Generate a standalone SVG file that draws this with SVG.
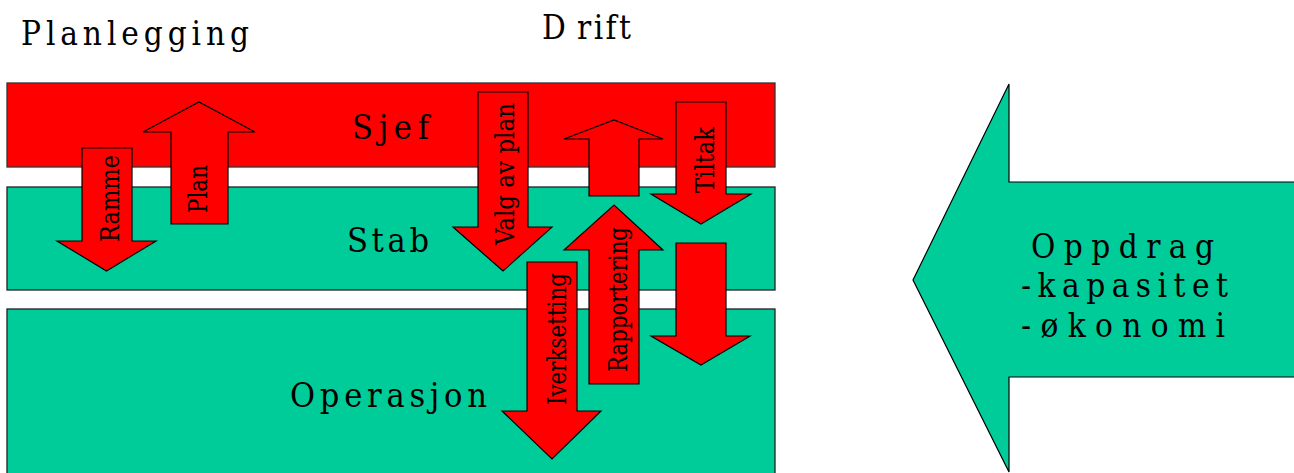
<svg xmlns="http://www.w3.org/2000/svg" width="1294" height="473" viewBox="0 0 1294 473">
  <style>
    .band-red { fill: #ff0000; stroke: #333333; stroke-width: 1.3; }
    .band-teal { fill: #00cc99; stroke: #222222; stroke-width: 1.3; }
    .arrow { fill: #ff0000; stroke: #000000; stroke-width: 1.2; stroke-linejoin: miter; }
    .big-arrow { fill: #00cc99; stroke: #000000; stroke-width: 1.2; }
    text { font-family: "DejaVu Serif", serif; font-stretch: condensed; fill: #000; }
    .title { font-size: 33px; }
    .band-label { font-size: 34px; }
    .arrow-label { font-size: 26.5px; text-anchor: middle; }
    .side-label { font-size: 33px; }
  </style>

  <!-- column headings -->
  <text class="title" x="21" y="45" textLength="228" lengthAdjust="spacing">Planlegging</text>
  <text class="title" y="39"><tspan x="542">D</tspan><tspan x="577" textLength="54" lengthAdjust="spacing">rift</tspan></text>

  <!-- organisational levels -->
  <g id="sjef">
    <rect class="band-red" x="7" y="83" width="768" height="84"/>
    <text class="band-label" x="352" y="139" textLength="77" lengthAdjust="spacing">Sjef</text>
  </g>
  <g id="stab">
    <rect class="band-teal" x="7" y="187" width="768" height="103"/>
    <text class="band-label" x="347" y="252" textLength="82" lengthAdjust="spacing">Stab</text>
  </g>
  <g id="operasjon">
    <rect class="band-teal" x="7" y="309" width="768" height="180"/>
    <text class="band-label" x="290" y="407" textLength="197" lengthAdjust="spacing">Operasjon</text>
  </g>

  <!-- flows between levels -->
  <g id="connectors">
    <g id="ramme">
      <polygon class="arrow" points="82,148 132,148 132,241 156,241 106.5,271 57,241 82,241"/>
      <text class="arrow-label" transform="translate(119,198.5) rotate(-90)" textLength="87" lengthAdjust="spacingAndGlyphs">Ramme</text>
    </g>
    <g id="plan">
      <polygon class="arrow" points="171,224 228,224 228,132 255,132 199,102 143,132 171,132"/>
      <text class="arrow-label" transform="translate(207,189) rotate(-90)" textLength="48" lengthAdjust="spacingAndGlyphs">Plan</text>
    </g>
    <g id="valg-av-plan">
      <polygon class="arrow" points="478,92 528,92 528,227 552,227 503,271 453,227 478,227"/>
      <text class="arrow-label" transform="translate(514,174) rotate(-90)" textLength="142" lengthAdjust="spacingAndGlyphs">Valg av plan</text>
    </g>
    <g id="opp-sjef">
      <polygon class="arrow" points="589,196 639,196 639,139 663,139 614,120 564,139 589,139"/>
    </g>
    <g id="tiltak">
      <polygon class="arrow" points="676,102 726,102 726,194 751,194 701,224 651,194 676,194"/>
      <text class="arrow-label" transform="translate(714,160) rotate(-90)" textLength="66" lengthAdjust="spacingAndGlyphs">Tiltak</text>
    </g>
    <g id="rapportering">
      <polygon class="arrow" points="589,384 639,384 639,250 663,250 614,205 564,250 589,250"/>
      <text class="arrow-label" transform="translate(627,299.5) rotate(-90)" textLength="145" lengthAdjust="spacingAndGlyphs">Rapportering</text>
    </g>
    <g id="iverksetting">
      <polygon class="arrow" points="527,262 577,262 577,411 601,411 552,459 502,411 527,411"/>
      <text class="arrow-label" transform="translate(566,339) rotate(-90)" textLength="132" lengthAdjust="spacingAndGlyphs">Iverksetting</text>
    </g>
    <g id="ned-operasjon">
      <polygon class="arrow" points="676,243 726,243 726,336 750,336 701,365 651,336 676,336"/>
    </g>
  </g>

  <!-- incoming assignment -->
  <g id="oppdrag">
    <polygon class="big-arrow" points="1300,182 1009,182 1009,84 913,280 1009,472 1009,377 1300,377"/>
    <text class="side-label" x="1031" y="258" textLength="183" lengthAdjust="spacing">Oppdrag</text>
    <text class="side-label" x="1021" y="297" textLength="207" lengthAdjust="spacing">-kapasitet</text>
    <text class="side-label" x="1021" y="337" textLength="204" lengthAdjust="spacing">-økonomi</text>
  </g>
</svg>
